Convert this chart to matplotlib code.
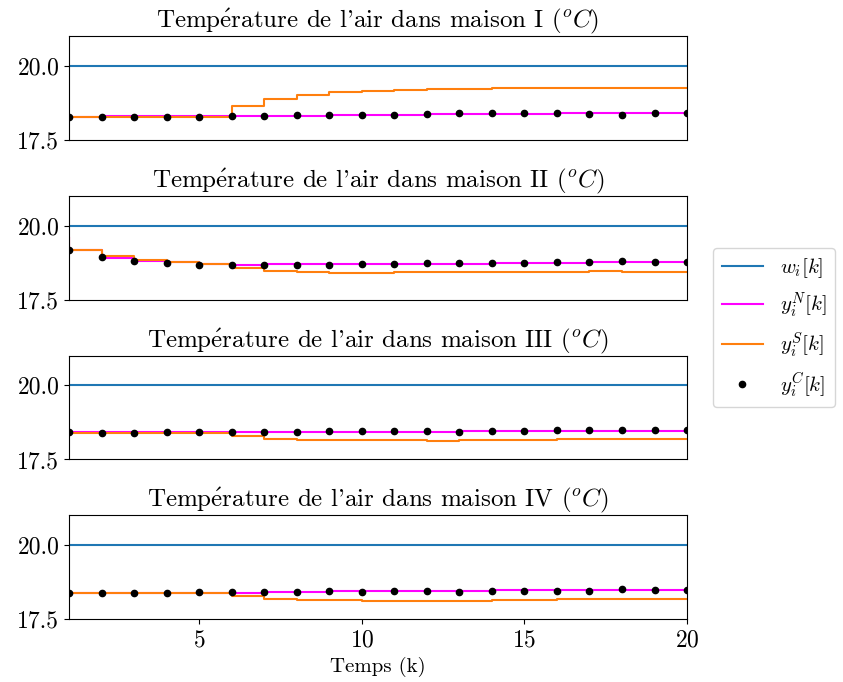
import numpy as np
import matplotlib
matplotlib.use("Agg")
import matplotlib.pyplot as plt

plt.rcParams['font.family'] = ['cmr10', 'DejaVu Serif']
plt.rcParams['mathtext.fontset'] = 'cm'
plt.rcParams['axes.formatter.use_mathtext'] = True

# time steps (k=0 is the initial state, hidden by xlim)
k = np.arange(0, 21)
consigne = 20.0

titres = [r"Temp$\acute{\mathrm{e}}$rature de l'air dans maison I ($^oC$)",
          r"Temp$\acute{\mathrm{e}}$rature de l'air dans maison II ($^oC$)",
          r"Temp$\acute{\mathrm{e}}$rature de l'air dans maison III ($^oC$)",
          r"Temp$\acute{\mathrm{e}}$rature de l'air dans maison IV ($^oC$)"]

# y^N (magenta)
yN_1 = [18.28, 18.28, 18.29, 18.29, 18.29, 18.29, 18.29, 18.31, 18.32, 18.33, 18.34, 18.35,
        18.36, 18.37, 18.38, 18.39, 18.40, 18.40, 18.41, 18.41, 18.42]
yN_2 = [19.60, 19.17, 18.92, 18.81, 18.76, 18.72, 18.68, 18.69, 18.69, 18.70, 18.70, 18.70,
        18.72, 18.72, 18.73, 18.74, 18.75, 18.76, 18.77, 18.77, 18.77]
yN_3 = [18.41, 18.41, 18.41, 18.41, 18.41, 18.41, 18.41, 18.41, 18.42, 18.43, 18.44, 18.44,
        18.44, 18.45, 18.47, 18.47, 18.47, 18.47, 18.47, 18.47, 18.47]
yN_4 = [18.40, 18.40, 18.40, 18.40, 18.40, 18.40, 18.40, 18.42, 18.43, 18.44, 18.45, 18.46,
        18.46, 18.47, 18.50, 18.50, 18.49, 18.49, 18.49, 18.49, 18.49]

# y^S (orange)
yS_1 = [18.28, 18.28, 18.28, 18.28, 18.28, 18.28, 18.65, 18.88, 19.02, 19.11, 19.16, 19.19,
        19.22, 19.23, 19.24, 19.245, 19.25, 19.25, 19.255, 19.26, 19.26]
yS_2 = [19.60, 19.17, 18.97, 18.83, 18.78, 18.72, 18.57, 18.48, 18.43, 18.39, 18.41, 18.42,
        18.42, 18.42, 18.43, 18.44, 18.45, 18.47, 18.44, 18.45, 18.45]
yS_3 = [18.40, 18.40, 18.40, 18.40, 18.40, 18.40, 18.30, 18.18, 18.16, 18.16, 18.14, 18.14,
        18.11, 18.14, 18.14, 18.17, 18.19, 18.18, 18.19, 18.20, 18.20]
yS_4 = [18.39, 18.39, 18.39, 18.39, 18.39, 18.39, 18.30, 18.17, 18.15, 18.15, 18.13, 18.13,
        18.11, 18.11, 18.14, 18.14, 18.18, 18.18, 18.18, 18.19, 18.20]

# y^C (black dots), k = 1..20
kC = np.arange(1, 21)
yC_1 = [18.28, 18.26, 18.28, 18.28, 18.28, 18.30, 18.32, 18.34, 18.34, 18.35,
        18.35, 18.38, 18.41, 18.41, 18.41, 18.40, 18.36, 18.35, 18.40, 18.42]
yC_2 = [19.17, 18.94, 18.81, 18.73, 18.67, 18.68, 18.67, 18.66, 18.68, 18.70,
        18.72, 18.73, 18.74, 18.74, 18.75, 18.77, 18.78, 18.80, 18.77, 18.77]
yC_3 = [18.41, 18.39, 18.39, 18.41, 18.43, 18.42, 18.43, 18.43, 18.45, 18.45,
        18.47, 18.45, 18.43, 18.47, 18.47, 18.48, 18.48, 18.51, 18.49, 18.49]
yC_4 = [18.39, 18.39, 18.38, 18.40, 18.43, 18.41, 18.42, 18.42, 18.44, 18.43,
        18.45, 18.45, 18.43, 18.47, 18.45, 18.47, 18.47, 18.51, 18.49, 18.48]

yN = [yN_1, yN_2, yN_3, yN_4]
yS = [yS_1, yS_2, yS_3, yS_4]
yC = [yC_1, yC_2, yC_3, yC_4]

fig, axs = plt.subplots(4, 1, figsize=(8.43, 6.82), dpi=100, sharex=True)
fig.subplots_adjust(left=0.082, right=0.815, top=0.947, bottom=0.092, hspace=0.54)

for i, ax in enumerate(axs):
    l1, = ax.step(k, np.full(k.size, consigne), where='post', color='#1f77b4', lw=1.5, label=r'$w_i[k]$')
    l2, = ax.step(k, yN[i], where='post', color='magenta', lw=1.5, label=r'$y_i^N[k]$')
    l3, = ax.step(k, yS[i], where='post', color='#ff7f0e', lw=1.5, label=r'$y_i^S[k]$')
    l4, = ax.plot(kC, yC[i], 'o', color='black', ms=4.5, label=r'$y_i^C[k]$')
    ax.set_title(titres[i], fontsize=18)
    ax.set_ylim(17.5, 21)
    ax.set_xlim(1, 20)
    ax.set_yticks([17.5, 20.0])
    ax.set_yticklabels(['17.5', '20.0'])
    ax.tick_params(axis='y', labelsize=17)
    if i < 3:
        ax.tick_params(axis='x', bottom=False, labelbottom=False)

axs[-1].set_xticks([5, 10, 15, 20])
axs[-1].tick_params(axis='x', labelsize=17)
axs[-1].set_xlabel('Temps (k)', fontsize=15)

fig.legend(handles=[l1, l2, l3, l4], loc='center left', bbox_to_anchor=(0.846, 0.52),
           fontsize=15, labelspacing=0.5, borderaxespad=0)

plt.savefig('out.png', dpi=100)
